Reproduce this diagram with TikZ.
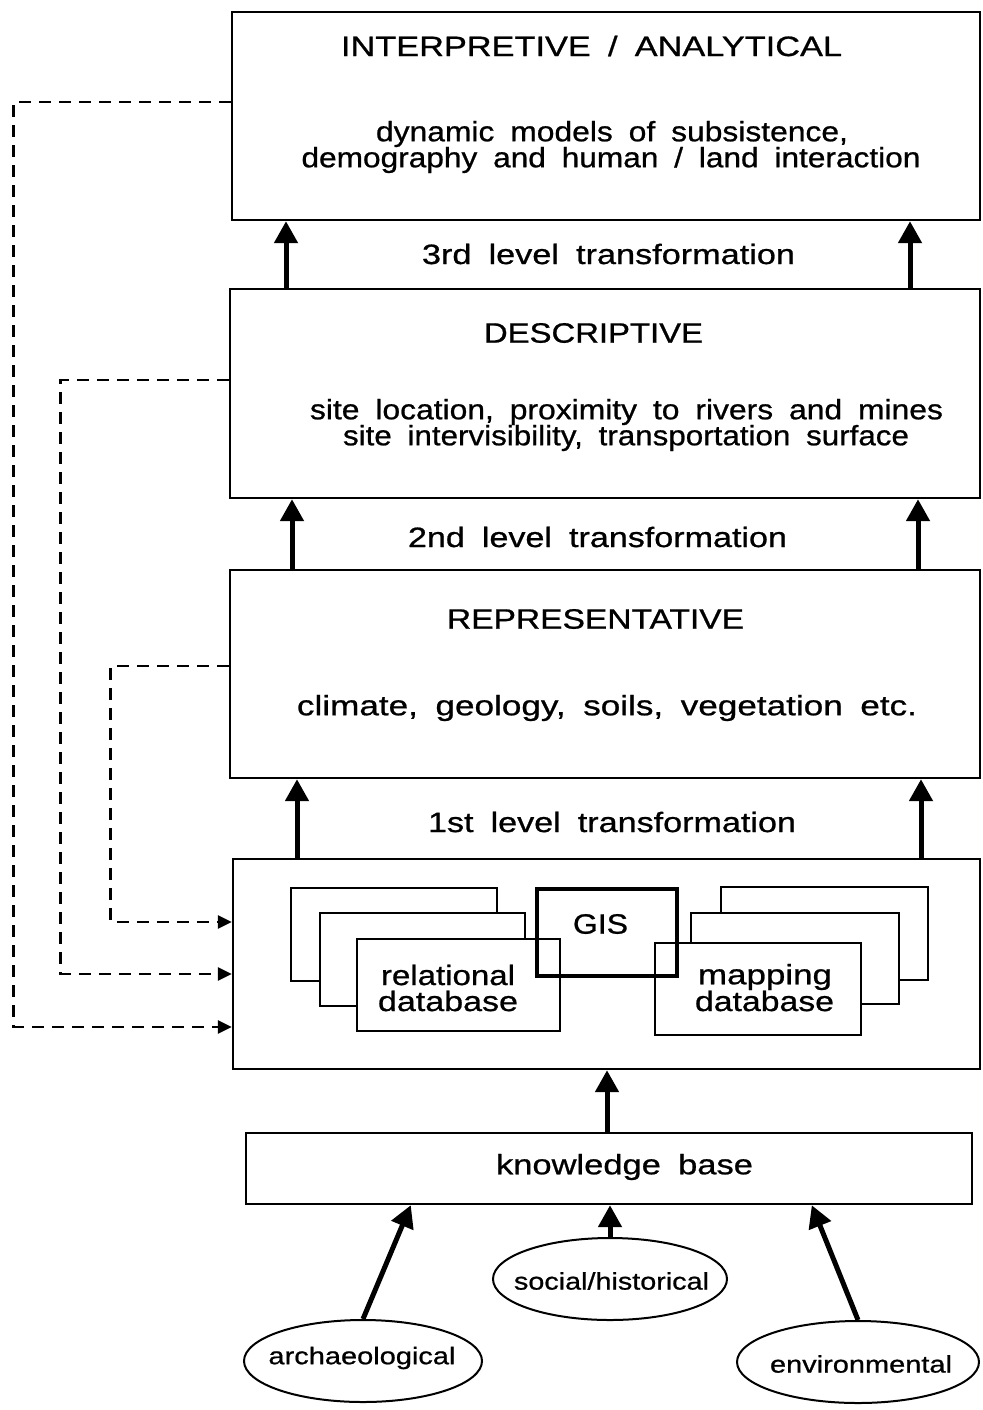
\documentclass[tikz,border=0pt]{standalone}
\usepackage{graphicx}
\usepackage{fontspec}
\setmainfont{Liberation Sans}[FakeStretch=1.15,WordSpace=1.8,FakeBold=0.8]
\usetikzlibrary{arrows.meta,shapes.geometric}
\newcommand\fitw[2]{\resizebox{#1}{\height}{#2}}
\tikzset{
  box/.style={draw,line width=2.4pt,fill=white,inner sep=0pt},
  dbbox/.style={draw,line width=2pt,fill=white,inner sep=0pt},
  gisbox/.style={draw,line width=4.5pt,inner sep=0pt},
  oval/.style={draw,ellipse,line width=2pt,inner sep=0pt},
  txt/.style={inner sep=0pt,font=\fontsize{28}{30}\selectfont},
  smalltxt/.style={inner sep=0pt,font=\fontsize{24}{26}\selectfont},
  bigarrow/.style={line width=5pt,-{Triangle[length=22pt,width=23pt]}},
  dashline/.style={line width=2.8pt,dash pattern=on 12pt off 8pt,-{Triangle[length=14pt,width=13pt]}}
}
\begin{document}
\begin{tikzpicture}[x=1pt,y=-1pt]
\useasboundingbox (0,0) rectangle (982,1410);
% main boxes
\node[box,minimum width=748pt,minimum height=208pt] (interp) at (606,116) {};
\node[box,minimum width=750pt,minimum height=209pt] (desc) at (605,393.5) {};
\node[box,minimum width=750pt,minimum height=208pt] (rep) at (605,674) {};
\node[box,minimum width=747pt,minimum height=210pt] (cont) at (606.5,964) {};
\node[box,minimum width=726pt,minimum height=71pt] (kb) at (609,1168.5) {};
% texts
\node[txt] (t1) at (591.5,46) {\fitw{501pt}{INTERPRETIVE / ANALYTICAL}};
\node[txt] (t1a) at (612,134) {\fitw{472pt}{dynamic models of subsistence,}};
\node[txt] (t1b) at (611,160) {\fitw{619pt}{demography and human / land interaction}};
\node[txt] (t2) at (593.5,333) {\fitw{219pt}{DESCRIPTIVE}};
\node[txt] (t2a) at (626.5,412) {\fitw{633pt}{site location, proximity to rivers and mines}};
\node[txt] (t2b) at (626,438) {\fitw{566pt}{site intervisibility, transportation surface}};
\node[txt] (t3) at (595.5,619) {\fitw{297pt}{REPRESENTATIVE}};
\node[txt] (t3a) at (607,708) {\fitw{620pt}{climate, geology, soils, vegetation etc.}};
\node[txt] (tkb) at (624.5,1167) {\fitw{257pt}{knowledge base}};
\node[txt] (l3) at (608.5,254) {\fitw{373pt}{3rd level transformation}};
\node[txt] (l2) at (597.5,537) {\fitw{379pt}{2nd level transformation}};
\node[txt] (l1) at (612,822) {\fitw{368pt}{1st level transformation}};
% database stacks
\node[dbbox,minimum width=206pt,minimum height=93pt] (rb) at (394,934.5) {};
\node[dbbox,minimum width=205pt,minimum height=93pt] (rm) at (422.5,959.5) {};
\node[dbbox,minimum width=203pt,minimum height=92pt] (rf) at (458.5,985) {};
\node[dbbox,minimum width=207pt,minimum height=93pt] (mb) at (824.5,933.5) {};
\node[dbbox,minimum width=208pt,minimum height=91pt] (mm) at (795,958.5) {};
\node[dbbox,minimum width=206pt,minimum height=92pt] (mf) at (758,989) {};
\node[gisbox,minimum width=140pt,minimum height=87pt] (gis) at (607,932.5) {};
\node[txt] (tgis) at (600.5,924) {\fitw{55pt}{GIS}};
\node[txt] (trel1) at (448,975) {\fitw{134pt}{relational}};
\node[txt] (trel2) at (448,1001) {\fitw{140pt}{database}};
\node[txt] (tmap1) at (765,977) {\fitw{134pt}{mapping}};
\node[txt] (tmap2) at (764.5,1001) {\fitw{139pt}{database}};
% ovals
\node[oval,minimum width=238pt,minimum height=82pt] (arch) at (363,1361) {};
\node[oval,minimum width=234pt,minimum height=82pt] (soc) at (610,1279) {};
\node[oval,minimum width=242pt,minimum height=82pt] (env) at (858,1362) {};
\node[smalltxt] (tarch) at (362,1358) {\fitw{187pt}{archaeological}};
\node[smalltxt] (tsoc) at (611.5,1281) {\fitw{195pt}{social/historical}};
\node[smalltxt] (tenv) at (861,1364) {\fitw{182pt}{environmental}};
% level arrows
\coordinate (a3l) at (286,0); \coordinate (a3r) at (910,0);
\coordinate (a2l) at (292,0); \coordinate (a2r) at (918,0);
\coordinate (a1l) at (297,0); \coordinate (a1r) at (921,0);
\coordinate (ak) at (607,0);
\draw[bigarrow] (desc.north -| a3l) -- (interp.south -| a3l);
\draw[bigarrow] (desc.north -| a3r) -- (interp.south -| a3r);
\draw[bigarrow] (rep.north -| a2l) -- (desc.south -| a2l);
\draw[bigarrow] (rep.north -| a2r) -- (desc.south -| a2r);
\draw[bigarrow] (cont.north -| a1l) -- (rep.south -| a1l);
\draw[bigarrow] (cont.north -| a1r) -- (rep.south -| a1r);
\draw[bigarrow] (kb.north -| ak) -- (cont.south -| ak);
% source arrows
\draw[bigarrow] (arch.north) -- ([xshift=166pt]kb.south west);
\draw[bigarrow] (soc.north) -- (soc.north |- kb.south);
\draw[bigarrow] (env.north) -- ([xshift=567pt]kb.south west);
% feedback dashed
\draw[dashline] ([yshift=14pt]interp.west) -- ++(-217pt,0) |- ([yshift=-63pt]cont.west);
\draw[dashline] ([yshift=13.5pt]desc.west) -- ++(-168pt,0) |- ([yshift=-10pt]cont.west);
\draw[dashline] ([yshift=8pt]rep.west) -- ++(-118pt,0) |- ([yshift=42pt]cont.west);
\end{tikzpicture}
\end{document}
